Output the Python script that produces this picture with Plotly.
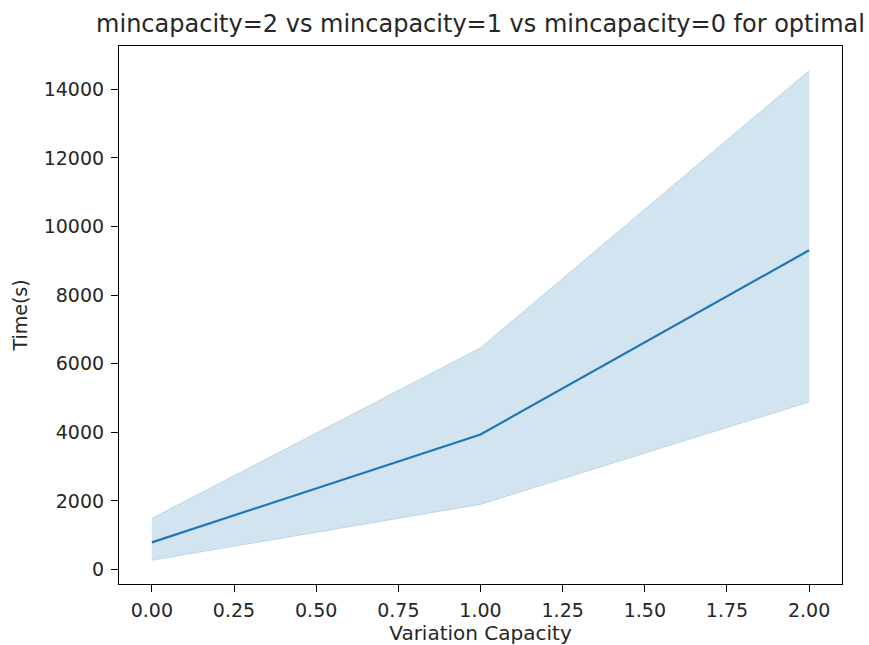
import plotly.graph_objects as go

x_vals = [0.0, 1.0, 2.0]
mean_vals = [795, 3940, 9310]
lower_vals = [271, 1900, 4885]
upper_vals = [1494, 6468, 14548]

x_ticks = [0.0, 0.25, 0.5, 0.75, 1.0, 1.25, 1.5, 1.75, 2.0]
x_tick_text = ["0.00", "0.25", "0.50", "0.75", "1.00", "1.25", "1.50", "1.75", "2.00"]
y_ticks = [0, 2000, 4000, 6000, 8000, 10000, 12000, 14000]
y_tick_text = ["0", "2000", "4000", "6000", "8000", "10000", "12000", "14000"]

blue = "#1f77b4"
band = "rgba(31,119,180,0.2)"
FONT = "DejaVu Sans"

fig = go.Figure()
fig.add_trace(go.Scatter(x=x_vals, y=lower_vals, mode="lines",
                         line=dict(color=band, width=1), showlegend=False,
                         hoverinfo="skip"))
fig.add_trace(go.Scatter(x=x_vals, y=upper_vals, mode="lines",
                         line=dict(color=band, width=1), fill="tonexty",
                         fillcolor=band, showlegend=False, hoverinfo="skip"))
fig.add_trace(go.Scatter(x=x_vals, y=mean_vals, mode="lines",
                         line=dict(color=blue, width=2.2), showlegend=False))

axis_common = dict(showline=True, linecolor="black", linewidth=1.1, mirror=True,
                   ticks="outside", ticklen=7, tickwidth=1.1, tickcolor="black",
                   showgrid=False, zeroline=False, automargin=False,
                   tickfont=dict(family=FONT, size=19, color="#262626"))

fig.update_layout(
    width=869, height=645,
    margin=dict(l=119, r=27, t=46, b=61),
    paper_bgcolor="white", plot_bgcolor="white",
    font=dict(family=FONT, color="#262626"),
    title=dict(text="mincapacity=2 vs mincapacity=1 vs mincapacity=0 for optimal",
               x=0.5, xref="paper", xanchor="center",
               y=1 - 24 / 645, yref="container", yanchor="middle",
               font=dict(family=FONT, size=24, color="#262626")),
    xaxis=dict(range=[-0.1, 2.1], tickvals=x_ticks, ticktext=x_tick_text,
               ticklabelstandoff=2,
               title=dict(text="Variation Capacity", standoff=12,
                          font=dict(family=FONT, size=20, color="#262626")),
               **axis_common),
    yaxis=dict(range=[-420, 15265], tickvals=y_ticks, ticktext=y_tick_text,
               ticklabelstandoff=3,
               title=dict(text="Time(s)", standoff=11,
                          font=dict(family=FONT, size=19, color="#262626")),
               **axis_common),
)

fig.write_html("out.html")
